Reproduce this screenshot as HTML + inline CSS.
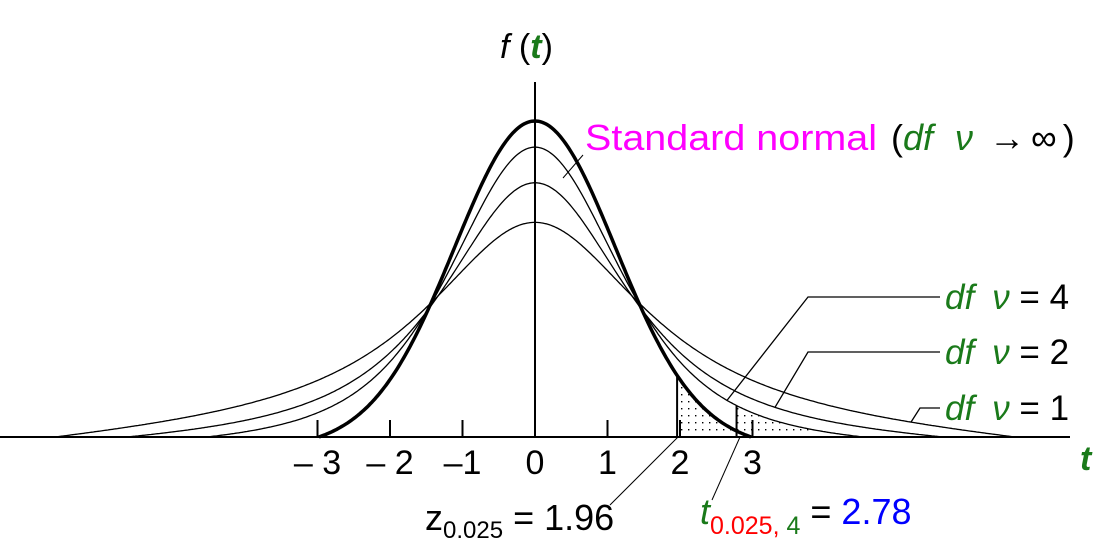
<!DOCTYPE html>
<html><head><meta charset="utf-8"><style>
html,body{margin:0;padding:0;background:#fff;}
svg{display:block;font-family:"Liberation Sans",sans-serif;}
</style></head><body>
<svg id="chart" width="1110" height="550" viewBox="0 0 1110 550">
<defs>
<pattern id="dots" width="7" height="7" patternUnits="userSpaceOnUse"><rect x="2" y="2" width="1.4" height="1.4" fill="#000"/></pattern>
</defs>
<g id="shading"></g>
<g id="curves"></g>
<line x1="0" y1="437" x2="1070" y2="437" stroke="#000" stroke-width="2"/>
<line x1="535" y1="82" x2="535" y2="437" stroke="#000" stroke-width="2"/>
<g id="ticks"></g>
<text x="500" y="58" font-size="34" font-style="italic">f <tspan font-style="normal">(</tspan><tspan fill="#1a7a1a" font-weight="bold">t</tspan><tspan font-style="normal">)</tspan></text>
<text x="1080" y="470" font-size="34" font-style="italic" font-weight="bold" fill="#1a7a1a">t</text>
<text x="585" y="150" font-size="36"><tspan fill="#ff00ff" textLength="292" lengthAdjust="spacingAndGlyphs">Standard normal</tspan><tspan dx="14">(</tspan><tspan fill="#1a7a1a" font-style="italic">df</tspan><tspan dx="22" fill="#1a7a1a" font-style="italic">ν</tspan><tspan dx="16">→</tspan><tspan dx="6">∞</tspan><tspan dx="6">)</tspan></text>
<line x1="583" y1="155" x2="563" y2="178" stroke="#000" stroke-width="1"/>
<g id="legend"></g>
<polyline points="678,437 610,505" fill="none" stroke="#000" stroke-width="1"/>
<polyline points="740,437 712,500" fill="none" stroke="#000" stroke-width="1"/>
<text x="425" y="530" font-size="36">z<tspan font-size="24" dy="8">0.025</tspan><tspan dy="-8"> = 1.96</tspan></text>
<text x="700" y="524" font-size="36"><tspan fill="#1a7a1a" font-style="italic">t</tspan><tspan font-size="25" dy="10" fill="#ff0000">0.025,</tspan><tspan font-size="25" fill="#1a7a1a"> 4</tspan><tspan dy="-10"> = </tspan><tspan fill="#0000ff">2.78</tspan></text>
</svg>
<script>
const tickValues=[-3,-2,-1,0,1,2,3];
const tickLabels=["– 3","– 2","–1","0","1","2","3"];
const curveNames=["normal","df4","df2","df1"];
const curveDf=[Infinity,4,2,1];
const curvePeak=[0.399,0.366,0.321,0.271];
const curveWidth=[1.0,1.08,1.24,1.69];
const curveExtent=[2.7,4.1,5.1,6.0];
const labelDf=[4,2,1];
const zCrit=1.96, tCrit=2.78;

const NS="http://www.w3.org/2000/svg";
const x0=535, yAxis=437, tickPx=72.5, curvePx=80, yPx=792;
const xt=v=>x0+v*tickPx;
const xc=u=>x0+u*curvePx;
const ys=d=>yAxis-d*yPx;
function shape(df,u){return df===Infinity?Math.exp(-u*u/2):Math.pow(1+u*u/df,-(df+1)/2);}
function raw(i,u){return curvePeak[i]*shape(curveDf[i],u/curveWidth[i]);}
function dens(i,u){const E=curveExtent[i];const r=Math.min(1,Math.abs(u)/E);return Math.max(0,raw(i,u)-raw(i,E)*r*r);}
function mk(tag,attrs,parent){const e=document.createElementNS(NS,tag);for(const k in attrs)e.setAttribute(k,attrs[k]);parent.appendChild(e);return e;}

const ticksG=document.getElementById('ticks');
tickValues.forEach((v,i)=>{
  const l=mk('line',{x1:xt(v),x2:xt(v),y1:yAxis-17,y2:yAxis,stroke:'#000','stroke-width':2},ticksG);
  
  
  const t=mk('text',{x:xt(v),y:474,'font-size':34,'text-anchor':'middle'},ticksG);
  t.textContent=tickLabels[i];
  
  
});

const uOf=x=>(x-x0)/curvePx;
const shadeG=document.getElementById('shading');
function shade(i,xa,xb,name){
  let pts=[[xa,yAxis]];
  for(let x=xa;x<=xb;x+=2)pts.push([x,ys(dens(i,uOf(x)))]);
  pts.push([xb,yAxis]);
  const p=mk('polygon',{points:pts.map(p=>p.join(',')).join(' '),fill:'url(#dots)'},shadeG);
  
  
  const l=mk('line',{x1:xa,x2:xa,y1:yAxis,y2:ys(dens(i,uOf(xa))),stroke:'#000','stroke-width':2},shadeG);
  
  
}
shade(0,xt(zCrit),xc(curveExtent[0]),'normal-tail-area');
shade(1,xt(tCrit),xc(curveExtent[1]),'df4-tail-area');

const cg=document.getElementById('curves');
curveNames.forEach((n,i)=>{
  const E=curveExtent[i];let pts=[];
  for(let u=-E;u<=E+1e-9;u+=0.02)pts.push([xc(u),ys(dens(i,u))]);
  const p=mk('polyline',{points:pts.map(p=>p[0].toFixed(1)+','+p[1].toFixed(1)).join(' '),fill:'none',stroke:'#000','stroke-width':i===0?3.5:1.3},cg);
  
  
});

const lg=document.getElementById('legend');
const labelY=[297,352,408], labelStart=[808,808,920], labelEndU=[2.4,3.0,4.7];
labelDf.forEach((d,k)=>{
  const i=curveDf.indexOf(d);
  const u=labelEndU[k];
  const pl=mk('polyline',{points:`940,${labelY[k]} ${labelStart[k]},${labelY[k]} ${xc(u)},${ys(dens(i,u))}`,fill:'none',stroke:'#000','stroke-width':1.3},lg);
  
  
  const t=mk('text',{x:945,y:labelY[k]+12,'font-size':35},lg);
  t.innerHTML=`<tspan fill="#1a7a1a" font-style="italic">df</tspan><tspan dx="18" fill="#1a7a1a" font-style="italic">ν</tspan><tspan> = ${d}</tspan>`;
  
  
});
</script>
</body></html>
